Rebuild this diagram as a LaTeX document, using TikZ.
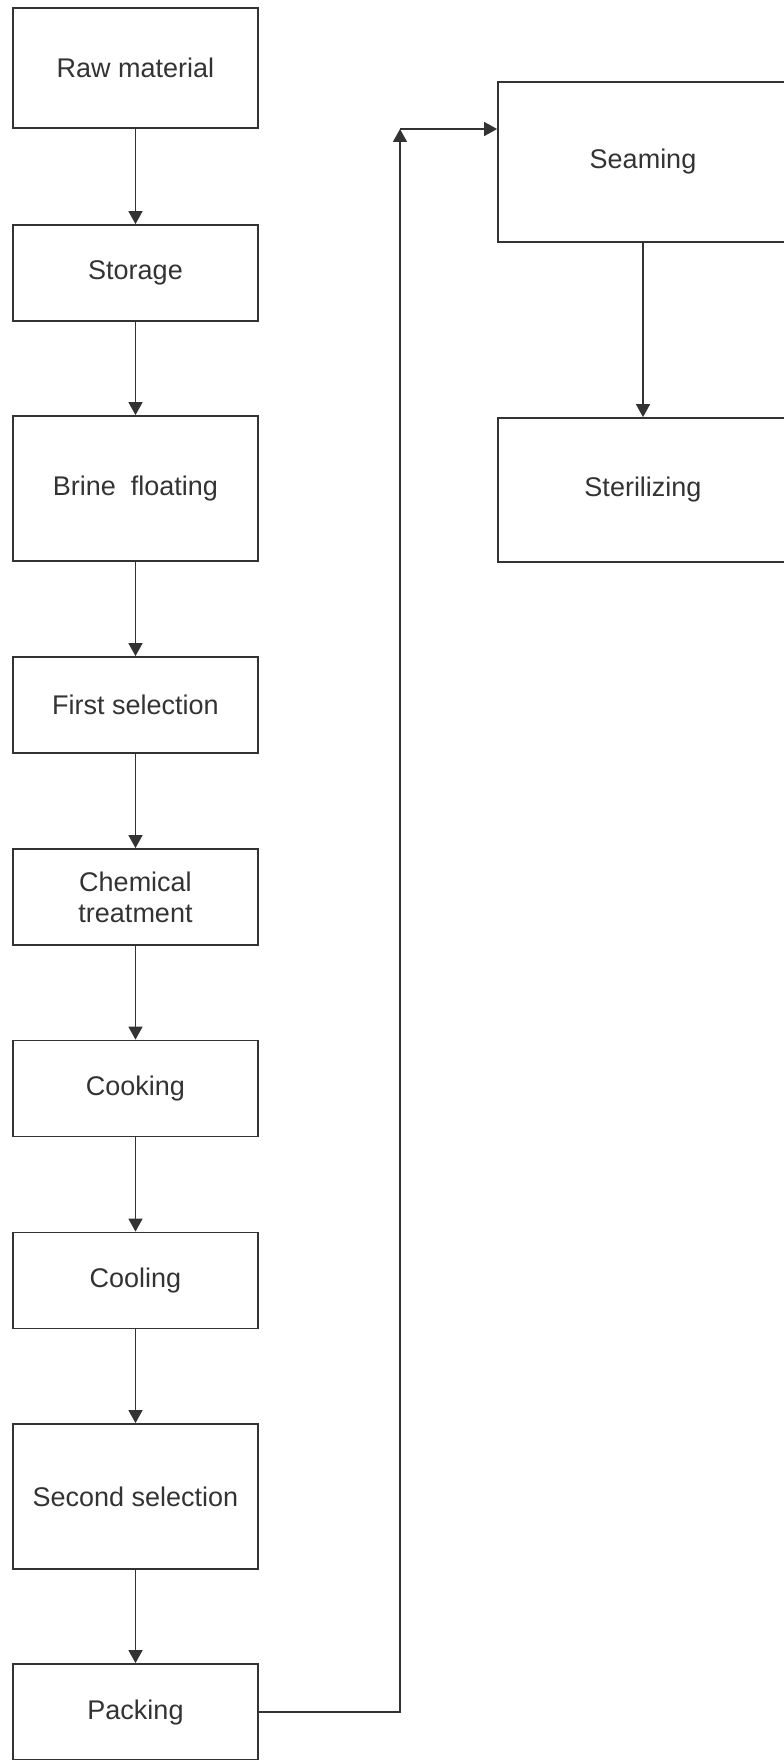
\documentclass[tikz,border=0pt]{standalone}
\usepackage{fontspec}
\setmainfont{Liberation Sans}
\usetikzlibrary{arrows.meta}
\definecolor{inkgray}{HTML}{333333}
\begin{document}
\begin{tikzpicture}[x=0.5pt,y=-0.5pt,
    proc/.style={draw=inkgray,line width=0.9pt,rectangle,minimum width=122.5pt,minimum height=48pt,align=center,
      text=inkgray,font=\fontsize{13.5}{15.5}\selectfont},
    flow/.style={draw=inkgray,line width=0.8pt,-{Triangle[length=6.5pt,width=7pt]}}]
      \useasboundingbox (0,0) rectangle (783,1760);
      \node[proc,minimum height=60pt] (raw) at (135.5,68) {Raw material};
      \node[proc] (storage) at (135.5,273) {Storage};
      \node[proc,minimum height=72.5pt] (brine) at (135.5,488.5) {Brine~~floating};
      \node[proc] (first) at (135.5,705) {First selection};
      \node[proc] (chem) at (135.5,897) {Chemical\\treatment};
      \node[proc] (cook) at (135.5,1088.5) {Cooking};
      \node[proc] (cool) at (135.5,1280.5) {Cooling};
      \node[proc,minimum height=72.5pt] (second) at (135.5,1496.5) {Second selection};
      \node[proc] (packing) at (135.5,1712) {Packing};
      \node[proc,minimum width=145pt,minimum height=80pt] (seaming) at (643,162) {Seaming};
      \node[proc,minimum width=145pt,minimum height=72pt] (steril) at (643,490) {Sterilizing};
      \coordinate (turn) at (400,129);
      \foreach \a/\b in {raw/storage,storage/brine,brine/first,first/chem,chem/cook,cook/cool,cool/second,second/packing,seaming/steril}
        \draw[flow] (\a) -- (\b);
      \draw[flow] (packing.east) -| (turn);
      \draw[flow] (turn) -- (seaming.west |- turn);
    \end{tikzpicture}
\end{document}
